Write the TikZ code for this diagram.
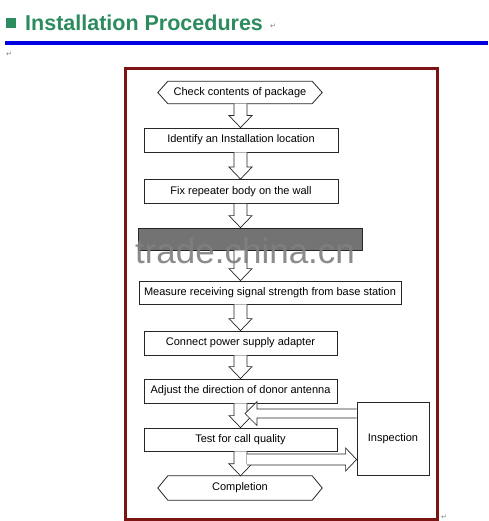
\documentclass[tikz,border=0pt]{standalone}
\usepackage{fontspec}
\setmainfont{Liberation Sans}
\newfontfamily\dejavu{DejaVu Sans}
\usetikzlibrary{calc}
\definecolor{titlegreen}{RGB}{45,140,95}
\definecolor{framered}{RGB}{125,20,20}
\definecolor{ruleblue}{RGB}{0,0,225}
\newcommand{\blockdown}[2]{%
  \draw[blockarrow] let \p1=(#1.south -| ax), \p2=(#2.north -| ax) in
    (\x1-6.5pt,\y1) -- (\x1-6.5pt,\y2+12pt) -- (\x1-11.5pt,\y2+12pt) -- (\x1,\y2)
    -- (\x1+11.5pt,\y2+12pt) -- (\x1+6.5pt,\y2+12pt) -- (\x1+6.5pt,\y1);
}
\newcommand{\hexframe}[1]{%
  \draw[hexline] (#1.west) -- ([xshift=10pt]#1.north west) -- ([xshift=-10pt]#1.north east)
    -- (#1.east) -- ([xshift=-10pt]#1.south east) -- ([xshift=10pt]#1.south west) -- cycle;
}
\begin{document}
\begin{tikzpicture}[x=1pt,y=-1pt,
  stepbox/.style={draw=black!85, line width=0.8pt, fill=white, minimum height=24pt, inner sep=0pt, font=\fontsize{11}{13}\selectfont},
  termbox/.style={minimum width=164pt, minimum height=22pt, inner sep=0pt, font=\fontsize{11}{13}\selectfont},
  hexline/.style={draw=black!85, line width=0.8pt},
  blockarrow/.style={draw=black!85, line width=0.7pt, fill=white, line join=miter},
  retmark/.style={font=\dejavu\fontsize{7}{8}\selectfont, text=black!50, inner sep=0pt}]
\useasboundingbox (0,0) rectangle (488,521);
\fill[white] (0,0) rectangle (488,521);

% title
\fill[titlegreen] (6,18) rectangle (16,28);
\node[anchor=base west, font=\bfseries\fontsize{21.5}{24}\selectfont, text=titlegreen, inner sep=0pt] (title) at (25,31) {Installation Procedures};
\node[retmark] (r1) at (273,26) {↵};
\draw[ruleblue, line width=3.4pt] (5,43) -- (488,43);
\node[retmark] (r2) at (9,54) {↵};
\node[retmark] (r3) at (444,517) {↵};

% frame
\draw[framered, line width=3pt] (125,68.5) rectangle (437.5,519.5);

\coordinate (ax) at (240.5,0);

% steps
\node[termbox] (n1) at (240,92.5) {Check contents of package};
\hexframe{n1}
\node[stepbox, minimum width=194pt] (n2) at (241,140) {Identify an Installation location};
\node[stepbox, minimum width=194pt] (n3) at (241,191.5) {Fix repeater body on the wall};
\node[draw=black!85, line width=0.8pt, fill=black!55, minimum width=224pt, minimum height=22pt, inner sep=0pt] (n4) at (250,239) {};
\node[stepbox, minimum width=262pt, minimum height=23pt] (n5) at (270,292.5) {Measure receiving signal strength from base station};
\node[stepbox, minimum width=193pt] (n6) at (240.5,343) {Connect power supply adapter};
\node[stepbox, minimum width=193pt] (n7) at (240.5,391) {Adjust the direction of donor antenna};
\node[stepbox, minimum width=193pt, minimum height=23pt] (n8) at (240.5,439.5) {Test for call quality};
\node[termbox, minimum height=24pt] (n9) at (240,488) {Completion};
\hexframe{n9}
\node[stepbox, minimum width=72pt, minimum height=73pt] (insp) at (393,438.5) {Inspection};

% block arrows
\blockdown{n1}{n2}
\blockdown{n2}{n3}
\blockdown{n3}{n4}
\blockdown{n4}{n5}
\blockdown{n5}{n6}
\blockdown{n6}{n7}
\blockdown{n7}{n8}
\blockdown{n8}{n9}

\coordinate (lt) at (245,413.5);
\draw[blockarrow] let \p1=(insp.west |- lt), \p2=(lt) in
  (\x1,\y1+4.5pt) -- (\x2+12pt,\y1+4.5pt) -- (\x2+12pt,\y1+12pt) -- (\x2,\y1)
  -- (\x2+12pt,\y1-12pt) -- (\x2+12pt,\y1-4.5pt) -- (\x1,\y1-4.5pt);

\coordinate (rt) at (247,459.5);
\draw[blockarrow] let \p1=(rt), \p2=(insp.west |- rt) in
  (\x1,\y1+5.5pt) -- (\x2-11pt,\y1+5.5pt) -- (\x2-11pt,\y1+11.5pt) -- (\x2,\y1)
  -- (\x2-11pt,\y1-11.5pt) -- (\x2-11pt,\y1-5.5pt) -- (\x1,\y1-5.5pt);

% watermark
\node[anchor=base, font=\fontsize{35}{40}\selectfont, text=black!50, inner sep=0pt, opacity=0.9] (wm) at (245,263) {trade.china.cn};
\end{tikzpicture}
\end{document}
